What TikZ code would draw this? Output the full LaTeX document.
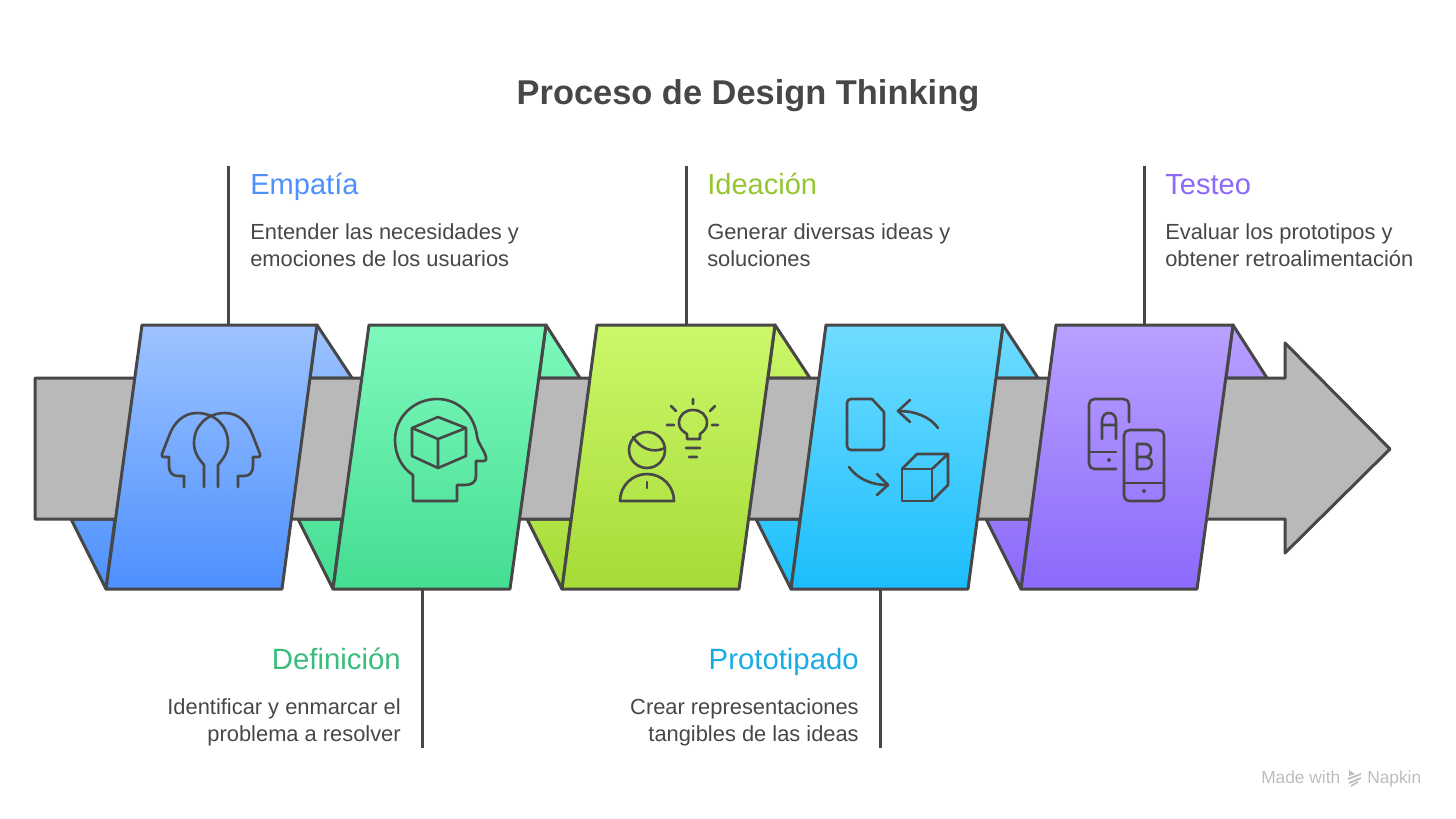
\documentclass[tikz,border=0pt]{standalone}
\usepackage{fontspec}
\setmainfont{Liberation Sans}
\usepackage{xcolor}

\definecolor{ink}{HTML}{474747}
\definecolor{band}{HTML}{B9B9B9}
\definecolor{brandgray}{HTML}{BDBDBD}
\definecolor{blueA}{HTML}{9DC3FF}
\definecolor{blueB}{HTML}{4D90FE}
\definecolor{greenA}{HTML}{7EF9BC}
\definecolor{greenB}{HTML}{44DD92}
\definecolor{limeA}{HTML}{CCF76A}
\definecolor{limeB}{HTML}{A6DB36}
\definecolor{cyanA}{HTML}{70DCFF}
\definecolor{cyanB}{HTML}{1CBEFD}
\definecolor{violetA}{HTML}{B9A0FF}
\definecolor{violetB}{HTML}{8C69FB}

\begin{document}
\begin{tikzpicture}[
    x=0.75pt, y=-0.75pt,
    panel/.style={draw=ink, line width=2.25pt, line join=round},
    icon/.style={draw=ink, line width=1.95pt, line cap=round, line join=round},
    leader/.style={draw=ink, line width=2.25pt},
    heading/.style={anchor=base west, inner sep=0pt, font=\fontsize{21.8}{26}\selectfont},
    headingr/.style={anchor=base east, inner sep=0pt, font=\fontsize{22}{26}\selectfont},
    body/.style={anchor=west, align=left, inner sep=0pt, text=ink, font=\fontsize{16.4}{19.9}\selectfont},
    bodyr/.style={anchor=east, align=right, inner sep=0pt, text=ink, font=\fontsize{16.4}{20.1}\selectfont},
    brand/.style={anchor=base west, inner sep=0pt, text=brandgray, font=\fontsize{13}{15}\selectfont}
]
\useasboundingbox (0,0) rectangle (1456,818);

\node[anchor=base, inner sep=0pt, text=ink, font=\fontsize{25.8}{30}\selectfont\bfseries] (title) at (748,104) {Proceso de Design Thinking};

% back folds
\path[panel, top color=blueA, bottom color=blueA!80!blueB] (317,325) -- (352,378) -- (310,378) -- cycle;
\path[panel, top color=blueA!27!blueB, bottom color=blueB] (71,519) -- (106,589) -- (115,519) -- cycle;
\path[panel, top color=greenA, bottom color=greenA!80!greenB] (546,325) -- (580,378) -- (539,378) -- cycle;
\path[panel, top color=greenA!27!greenB, bottom color=greenB] (298,519) -- (333,589) -- (342,519) -- cycle;
\path[panel, top color=limeA, bottom color=limeA!80!limeB] (775,325) -- (810,378) -- (768,378) -- cycle;
\path[panel, top color=limeA!27!limeB, bottom color=limeB] (527,519) -- (562,589) -- (571,519) -- cycle;
\path[panel, top color=cyanA, bottom color=cyanA!80!cyanB] (1003,325) -- (1038,378) -- (996,378) -- cycle;
\path[panel, top color=cyanA!27!cyanB, bottom color=cyanB] (756,519) -- (791,589) -- (800,519) -- cycle;
\path[panel, top color=violetA, bottom color=violetA!80!violetB] (1233,325) -- (1267,378) -- (1226,378) -- cycle;
\path[panel, top color=violetA!27!violetB, bottom color=violetB] (986,519) -- (1021,589) -- (1030,519) -- cycle;

% long arrow
\path[panel, fill=band] (35,378) -- (1285,378) -- (1285,343) -- (1390,449) -- (1285,553) -- (1285,519) -- (35,519) -- cycle;

% panels
\path[panel, top color=blueA, bottom color=blueB] (142,325) -- (317,325) -- (282,589) -- (106,589) -- cycle;
\path[panel, top color=greenA, bottom color=greenB] (369,325) -- (546,325) -- (510,589) -- (333,589) -- cycle;
\path[panel, top color=limeA, bottom color=limeB] (597,325) -- (775,325) -- (739,589) -- (562,589) -- cycle;
\path[panel, top color=cyanA, bottom color=cyanB] (826,325) -- (1003,325) -- (968,589) -- (791,589) -- cycle;
\path[panel, top color=violetA, bottom color=violetB] (1056,325) -- (1233,325) -- (1197,589) -- (1021,589) -- cycle;

% two heads
\draw[icon] (184,487) -- (184,476) -- (178,476) .. controls (172,476) and (169,472) .. (169,466) -- (169,457) -- (164,457) .. controls (162,457) and (161,456) .. (162,454) -- (169,436) .. controls (174,422) and (184,413) .. (197,413) .. controls (215,413) and (228,426) .. (228,443) .. controls (228,452) and (224,458) .. (218,465) -- (218,487);
\draw[icon] (238,487) -- (238,476) -- (244,476) .. controls (250,476) and (253,472) .. (253,466) -- (253,457) -- (258,457) .. controls (260,457) and (261,456) .. (260,454) -- (253,436) .. controls (248,422) and (238,413) .. (225,413) .. controls (207,413) and (194,426) .. (194,443) .. controls (194,452) and (198,458) .. (204,465) -- (204,487);

% head with cube
\draw[icon] (413,475) -- (413,501) -- (457,501) -- (457,485) -- (465,485) .. controls (472,485) and (476,482) .. (476,476) -- (476,461) -- (483,461) .. controls (486,461) and (487,459) .. (486,457) .. controls (484,449) and (478,444) .. (477,436) .. controls (474,414) and (458,399) .. (437,399) .. controls (414,399) and (395,417) .. (395,440) .. controls (395,455) and (402,468) .. (413,475) -- cycle;
\draw[icon] (438,417) -- (466,428) -- (466,456) -- (438,468) -- (412,456) -- (412,428) -- cycle;
\draw[icon] (412,428) -- (438,439) -- (466,428) (438,439) -- (438,468);

% person with bulb
\draw[icon] (687,439) -- (687,434) .. controls (682,431) and (679,428) .. (679,423) .. controls (679,415) and (685,410) .. (693,410) .. controls (701,410) and (707,415) .. (707,423) .. controls (707,428) and (704,431) .. (700,434) -- (700,439) -- cycle;
\draw[icon] (693,399) -- (693,404) (671,406) -- (676,411) (715,406) -- (710,411) (667,425) -- (674,425) (712,425) -- (718,425) (686,448) -- (700,448) (689,457) -- (697,457);
\draw[icon] (647,450) circle[radius=18];
\draw[icon] (633,437) .. controls (640,448) and (652,454) .. (665,448);
\draw[icon] (620,501) .. controls (620,486) and (632,474) .. (647,474) .. controls (662,474) and (674,486) .. (674,501) -- cycle;
\draw[icon] (647,482) -- (647,488);

% document and cube
\draw[icon, rounded corners=3pt] (872,399) -- (847,399) -- (847,450) -- (884,450) -- (884,412);
\draw[icon] (884,412) -- (872,399);
\draw[icon] (938,428) .. controls (930,417) and (916,411) .. (898,411);
\draw[icon] (910,400) -- (898,411) -- (910,422);
\draw[icon] (849,467) .. controls (857,478) and (870,485) .. (888,485);
\draw[icon] (877,474) -- (888,485) -- (877,495);
\draw[icon] (902,469) rectangle (932,501);
\draw[icon] (902,469) -- (917,454) -- (948,454) -- (948,485) -- (932,501) (932,469) -- (948,454);

% phones
\draw[icon, rounded corners=4pt] (1116,469) -- (1089,469) -- (1089,399) -- (1129,399) -- (1129,422);
\draw[icon] (1090,452) -- (1116,452);
\draw[icon] (1102,439) -- (1102,421) .. controls (1102,416) and (1105,413) .. (1109,413) .. controls (1113,413) and (1116,416) .. (1116,421) -- (1116,439) (1102,425) -- (1116,425);
\fill[ink] (1109,460) circle[radius=2];
\draw[icon, rounded corners=4pt] (1124,430) rectangle (1164,501);
\draw[icon] (1124,483) -- (1164,483);
\draw[icon] (1137,457) -- (1137,444) -- (1145,444) .. controls (1153,444) and (1153,457) .. (1145,457) -- (1137,457) -- (1137,469) -- (1145,469) .. controls (1154,469) and (1154,457) .. (1145,457);
\fill[ink] (1144,491) circle[radius=2];

% leaders
\coordinate (empatia-free) at (228,166);
\coordinate (empatia-base) at (228,325);
\coordinate (definicion-free) at (422,748);
\coordinate (definicion-base) at (422,589);
\coordinate (ideacion-free) at (686,166);
\coordinate (ideacion-base) at (686,325);
\coordinate (prototipado-free) at (880,748);
\coordinate (prototipado-base) at (880,589);
\coordinate (testeo-free) at (1144,166);
\coordinate (testeo-base) at (1144,325);
\draw[leader] (empatia-free) -- (empatia-base);
\draw[leader] (definicion-free) -- (definicion-base);
\draw[leader] (ideacion-free) -- (ideacion-base);
\draw[leader] (prototipado-free) -- (prototipado-base);
\draw[leader] (testeo-free) -- (testeo-base);

\node[heading, text=blueB] (empatia-head) at (250,194) {Empatía};
\node[body] (empatia-text) at (250,245) {Entender las necesidades y\\emociones de los usuarios};
\node[headingr, text=greenB!85!black] (definicion-head) at (401,669) {Definición};
\node[bodyr] (definicion-text) at (401,722.5) {Identificar y enmarcar el\\problema a resolver};
\node[heading, text=limeB!90!black] (ideacion-head) at (707,194) {Ideación};
\node[body] (ideacion-text) at (707,245) {Generar diversas ideas y\\soluciones};
\node[headingr, text=cyanB!90!black] (prototipado-head) at (859,669) {Prototipado};
\node[bodyr] (prototipado-text) at (859,722.5) {Crear representaciones\\tangibles de las ideas};
\node[heading, text=violetB] (testeo-head) at (1165,194) {Testeo};
\node[body] (testeo-text) at (1165,245) {Evaluar los prototipos y\\obtener retroalimentación};

% made with
\node[brand] (made) at (1261,783) {Made with};
\node[brand] (napkin) at (1367,783) {Napkin};
\fill[brandgray] (1349,770) -- (1355,774) -- (1349,776) -- cycle;
\draw[brandgray, line width=1.3pt] (1348,779) -- (1361,774) (1349,783) -- (1361,778) (1351,786) -- (1358,782);
\end{tikzpicture}
\end{document}
